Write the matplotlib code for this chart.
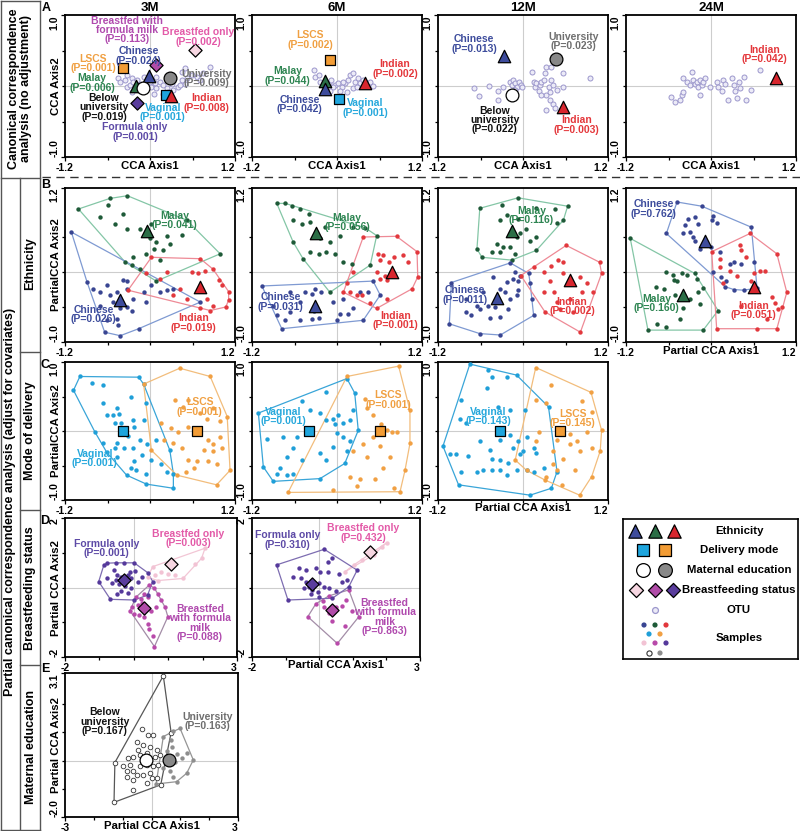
import matplotlib.pyplot as plt
from matplotlib.lines import Line2D
import numpy as np

plt.rcParams['font.family'] = ['Liberation Sans', 'DejaVu Sans']
plt.rcParams['font.weight'] = 'bold'
plt.rcParams['axes.labelweight'] = 'bold'

# ---------------- data ----------------
# A: unadjusted CCA, OTU scores
a3_otu = np.array([(-0.45, 0.11), (-0.42, 0.06), (-0.35, 0.08), (-0.33, -0.01), (-0.28, 0.01), (-0.26, 0.11),
                   (-0.24, 0.05), (-0.19, 0.08), (-0.14, 0.03), (-0.12, -0.03), (-0.05, 0.01), (0.0, 0.06),
                   (0.02, -0.02), (0.07, 0.04), (0.09, -0.03), (0.14, 0.06), (0.19, 0.01), (0.24, -0.03),
                   (0.26, -0.09), (0.33, -0.06), (0.39, -0.02), (0.45, 0.20), (0.49, 0.25), (0.52, 0.11),
                   (0.59, 0.15), (0.66, 0.13), (0.71, 0.08), (0.75, 0.18), (0.85, 0.27), (0.49, 0.03),
                   (0.45, 0.08), (0.09, 0.12), (-0.26, -0.09), (-0.33, 0.15), (0.31, 0.03), (0.42, 0.01),
                   (0.05, -0.11), (0.19, -0.11), (-0.09, 0.12)])
a6_otu = np.array([(-0.33, 0.23), (-0.31, 0.13), (-0.24, 0.06), (-0.19, 0.01), (-0.12, 0.04), (-0.08, 0.08),
                   (-0.03, 0.01), (0.02, 0.04), (0.07, -0.02), (0.11, 0.04), (0.16, 0.08), (0.18, 0.15),
                   (0.23, 0.18), (0.25, 0.06), (0.30, 0.11), (0.32, 0.04), (0.37, 0.08), (0.42, 0.01),
                   (0.47, 0.06), (0.23, -0.03), (0.14, -0.08), (0.09, 0.06), (0.04, -0.07), (-0.05, -0.02),
                   (-0.10, -0.07), (-0.26, 0.15), (0.51, 0.0), (0.28, -0.02)])
a12_otu = np.array([(-0.69, -0.03), (-0.62, -0.14), (-0.48, 0.0), (-0.36, -0.07), (-0.35, -0.20), (-0.28, -0.02),
                    (-0.18, 0.06), (-0.16, 0.01), (-0.14, 0.08), (-0.11, 0.04), (-0.08, -0.02), (-0.06, 0.05),
                    (-0.03, 0.01), (-0.01, -0.02), (-0.11, -0.06), (0.12, 0.20), (0.15, 0.06), (0.17, -0.02),
                    (0.19, 0.04), (0.22, -0.07), (0.24, 0.01), (0.26, 0.06), (0.29, 0.09), (0.31, 0.18),
                    (0.33, 0.27), (0.36, -0.02), (0.38, -0.08), (0.40, 0.27), (0.43, 0.01), (0.33, -0.13),
                    (0.38, -0.20), (0.43, -0.25), (0.45, -0.31), (0.32, -0.34), (0.48, -0.06), (0.57, 0.18),
                    (0.57, -0.02), (0.40, 0.09), (0.94, 0.11), (0.26, -0.13)])
a24_otu = np.array([(-0.56, -0.15), (-0.51, -0.22), (-0.44, -0.20), (-0.41, -0.13), (-0.39, -0.08), (-0.40, 0.11),
                    (-0.34, 0.06), (-0.30, 0.01), (-0.27, 0.20), (-0.25, 0.08), (-0.23, 0.03), (-0.20, 0.06),
                    (-0.18, -0.02), (-0.16, 0.08), (-0.13, 0.01), (-0.11, 0.06), (-0.08, 0.11), (-0.16, -0.13),
                    (-0.01, -0.02), (0.08, 0.06), (0.10, -0.02), (0.15, -0.07), (0.17, 0.08), (0.24, -0.20),
                    (0.29, 0.11), (0.34, -0.07), (0.36, -0.17), (0.39, 0.06), (0.41, -0.03), (0.46, 0.13),
                    (0.50, -0.20), (0.57, -0.06), (0.69, 0.23), (0.20, 0.03), (0.32, 0.01)])

# A: centroids and P values
a3_cent = {'Breastfed only': (0.64, 0.51), 'Breastfed with formula milk': (0.08, 0.30), 'LSCS': (-0.38, 0.25),
           'Chinese': (-0.01, 0.14), 'University': (0.28, 0.11), 'Malay': (-0.20, 0.0),
           'Below university': (-0.10, -0.03), 'Vaginal': (0.22, -0.13), 'Indian': (0.30, -0.14),
           'Formula only': (-0.19, -0.24)}
a3_p = {'Breastfed only': '0.002', 'Breastfed with formula milk': '0.113', 'LSCS': '0.001', 'Chinese': '0.024',
        'University': '0.009', 'Malay': '0.006', 'Below university': '0.019', 'Vaginal': '0.001',
        'Indian': '0.008', 'Formula only': '0.001'}
a6_cent = {'LSCS': (-0.10, 0.37), 'Malay': (-0.17, 0.07), 'Chinese': (-0.17, -0.04), 'Vaginal': (0.03, -0.18),
           'Indian': (0.40, 0.04)}
a6_p = {'LSCS': '0.002', 'Malay': '0.044', 'Chinese': '0.042', 'Vaginal': '0.001', 'Indian': '0.002'}
a12_cent = {'Chinese': (-0.27, 0.42), 'University': (0.47, 0.38), 'Below university': (-0.16, -0.13),
            'Indian': (0.56, -0.30)}
a12_p = {'Chinese': '0.013', 'University': '0.023', 'Below university': '0.022', 'Indian': '0.003'}
a24_cent = {'Indian': (0.92, 0.11)}
a24_p = {'Indian': '0.042'}

# B: ethnicity, partial CCA sample scores
b3_malay = np.array([(-1.01, 0.90), (-0.57, 1.05), (-0.32, 1.09), (-0.59, 0.95), (-0.38, 0.83), (-0.49, 0.69),
                     (-0.33, 0.62), (-0.14, 0.62), (0.02, 0.69), (0.0, 0.48), (0.09, 0.43), (0.24, 0.52),
                     (0.28, 0.40), (0.45, 0.53), (-0.05, 0.26), (0.05, 0.33), (-0.24, 0.21), (-0.14, 0.05),
                     (0.99, 0.26), (-0.35, 0.14), (-0.26, 0.10), (0.52, 0.74), (0.19, 0.31), (0.14, 0.17),
                     (-0.71, 0.79), (0.09, -0.13)])
b3_chinese = np.array([(-0.89, -0.14), (-0.80, -0.24), (-0.71, -0.29), (-0.61, -0.19), (-0.56, -0.33),
                       (-0.52, -0.43), (-0.47, -0.29), (-0.38, -0.12), (-0.33, -0.24), (-0.42, -0.52),
                       (-0.33, -0.50), (-0.26, -0.55), (-0.24, -0.38), (-0.47, -0.67), (-0.45, -0.76),
                       (-0.61, -0.69), (-0.64, -0.86), (-0.42, -0.91), (-0.16, -0.81), (-0.09, -0.29),
                       (0.02, -0.19), (0.14, -0.29), (0.24, -0.26), (0.33, -0.24), (-0.05, -0.43),
                       (0.71, -0.43), (-1.11, 0.57), (-0.71, -0.48), (-0.33, -0.13)])
b3_indian = np.array([(0.02, 0.21), (0.71, 0.19), (0.59, 0.0), (0.68, -0.02), (0.78, 0.01), (0.89, 0.04),
                      (0.97, -0.12), (1.01, -0.19), (1.11, -0.28), (1.11, -0.40), (1.07, -0.50), (0.89, -0.48),
                      (0.80, -0.38), (0.71, -0.51), (0.85, -0.55), (0.52, -0.38), (0.42, -0.24), (0.33, -0.33),
                      (0.24, 0.0), (0.14, -0.10), (-0.31, -0.26), (-0.05, -0.02)])
b6_malay = np.array([(-0.85, 0.98), (-0.73, 0.98), (-0.64, 0.94), (-0.52, 0.90), (-0.40, 0.83), (-0.62, 0.74),
                     (-0.50, 0.69), (-0.38, 0.71), (-0.17, 0.64), (-0.24, 0.48), (-0.10, 0.43), (0.04, 0.52),
                     (0.23, 0.64), (0.40, 0.63), (0.56, 0.52), (-0.62, 0.43), (-0.38, 0.29), (-0.26, 0.26),
                     (-0.15, 0.29), (-0.03, 0.26), (0.09, 0.14), (0.21, 0.12), (-0.10, -0.29), (-0.48, 0.19),
                     (0.47, 0.10)])
b6_chinese = np.array([(-1.06, -0.20), (-0.90, -0.48), (-0.85, -0.62), (-0.78, -0.81), (-0.73, -0.69),
                       (-0.66, -0.57), (-0.52, -0.43), (-0.45, -0.29), (-0.36, -0.31), (-0.31, -0.24),
                       (-0.23, -0.29), (-0.33, -0.55), (-0.36, -0.67), (-0.26, -0.66), (0.04, -0.60),
                       (0.16, -0.60), (0.23, -0.52), (-0.05, -0.43), (0.09, -0.38), (0.32, -0.29),
                       (0.44, -0.29), (0.51, -0.13), (0.61, -0.33), (0.0, -0.69), (-0.52, -0.69),
                       (-0.66, -0.29), (0.37, -0.69)])
b6_indian = np.array([(0.37, 0.50), (0.84, 0.51), (0.58, 0.26), (0.65, 0.24), (0.61, 0.17), (0.73, 0.14),
                      (0.80, 0.21), (0.68, -0.05), (0.61, -0.10), (0.70, -0.12), (0.56, 0.0), (0.14, -0.15),
                      (0.18, -0.29), (0.28, -0.33), (0.35, -0.33), (0.47, -0.44), (0.56, -0.52), (0.70, -0.38),
                      (0.23, 0.0), (0.09, -0.29), (0.93, 0.24), (1.0, 0.14), (1.06, -0.24), (1.13, 0.29),
                      (1.14, -0.07)])
b12_malay = np.array([(-0.61, 0.91), (-0.30, 0.96), (-0.07, 1.06), (0.19, 0.91), (0.45, 0.90), (0.63, 0.94),
                      (0.57, 0.74), (0.48, 0.70), (-0.23, 0.82), (-0.32, 0.74), (-0.07, 0.75), (0.04, 0.62),
                      (-0.04, 0.56), (-0.09, 0.50), (0.10, 0.45), (0.19, 0.50), (-0.37, 0.40), (-0.28, 0.36),
                      (-0.18, 0.36), (-0.44, 0.29), (-0.32, 0.29), (-0.11, 0.26), (-0.65, 0.33), (-0.58, 0.21),
                      (0.19, 0.31), (-0.16, 0.17)])
b12_chinese = np.array([(-1.01, -0.15), (-1.04, -0.74), (-0.61, -0.88), (-0.32, -0.90), (0.15, -0.62),
                        (-0.18, 0.13), (-0.11, 0.0), (-0.14, -0.10), (-0.04, -0.05), (-0.07, -0.13),
                        (-0.23, -0.14), (-0.42, -0.07), (-0.32, -0.24), (-0.25, -0.29), (-0.18, -0.39),
                        (-0.09, -0.33), (-0.07, -0.26), (-0.65, -0.48), (-0.80, -0.57), (-0.73, -0.61),
                        (-0.61, -0.53), (-0.50, -0.48), (-0.47, -0.66), (-0.32, -0.64), (-0.80, -0.39),
                        (-0.56, -0.29), (-0.40, -0.50), (-0.21, -0.53), (0.08, -0.02), (0.10, -0.15),
                        (0.12, -0.39)])
b12_indian = np.array([(0.61, 0.38), (1.08, 0.14), (1.11, -0.02), (0.99, -0.29), (0.81, -0.86), (0.31, -0.57),
                       (-0.03, -0.05), (0.15, 0.07), (0.50, 0.17), (0.56, 0.14), (0.40, 0.09), (0.29, 0.0),
                       (0.38, -0.13), (0.57, -0.01), (0.81, -0.07), (0.90, -0.15), (0.83, -0.29), (0.30, -0.29),
                       (0.44, -0.29), (0.48, -0.43), (0.66, -0.38), (0.71, -0.57), (0.52, -0.53)])
b24_chinese = np.array([(-0.48, 1.0), (-0.13, 0.94), (0.03, 0.80), (0.57, 0.64), (0.61, 0.14), (0.65, -0.23),
                        (0.46, -0.26), (0.20, -0.21), (-0.63, 0.55), (-0.39, 0.55), (-0.30, 0.57), (-0.25, 0.50),
                        (-0.18, 0.69), (-0.37, 0.67), (-0.33, 0.76), (-0.22, 0.79), (0.01, 0.74), (0.09, 0.70),
                        (-0.16, 0.33), (0.0, 0.36), (0.13, 0.29), (0.27, 0.12), (0.32, 0.14), (0.42, 0.12),
                        (0.03, 0.0), (0.14, -0.07), (0.21, -0.13), (0.32, -0.25), (-0.23, 0.45)])
b24_malay = np.array([(-1.14, 0.48), (-0.89, -0.83), (-0.11, -0.83), (0.10, -0.55), (-0.63, 0.0), (-0.53, -0.04),
                      (-0.41, -0.02), (-0.34, -0.04), (-0.23, -0.02), (-0.20, -0.10), (-0.52, -0.12),
                      (-0.48, -0.13), (-0.77, -0.21), (-0.67, -0.24), (-0.76, -0.74), (-0.63, -0.79),
                      (-0.39, -0.52), (-0.30, -0.39), (-0.18, -0.29), (-0.11, -0.23), (-0.44, -0.67),
                      (-0.16, -0.45), (-0.51, -0.33)])
b24_indian = np.array([(0.55, 0.55), (0.93, 0.26), (1.07, -0.29), (1.0, -0.50), (0.93, -0.81), (0.65, -0.81),
                       (0.08, -0.81), (0.01, 0.29), (0.13, 0.19), (0.41, 0.38), (0.43, 0.32), (0.50, 0.21),
                       (0.69, 0.02), (0.76, 0.01), (0.61, -0.02), (0.13, 0.07), (0.27, 0.02), (0.36, -0.06),
                       (0.57, -0.13), (0.86, -0.36), (0.90, -0.44), (0.95, -0.53), (0.79, -0.67), (0.43, -0.48),
                       (0.17, -0.15)])
b3_cent = {'Malay': (-0.04, 0.59), 'Indian': (0.70, -0.21), 'Chinese': (-0.42, -0.40)}
b3_p = {'Malay': '0.041', 'Indian': '0.019', 'Chinese': '0.026'}
b6_cent = {'Malay': (-0.29, 0.55), 'Indian': (0.77, 0.0), 'Chinese': (-0.31, -0.48)}
b6_p = {'Malay': '0.056', 'Indian': '0.001', 'Chinese': '0.031'}
b12_cent = {'Malay': (-0.16, 0.58), 'Indian': (0.67, -0.12), 'Chinese': (-0.37, -0.37)}
b12_p = {'Malay': '0.116', 'Indian': '0.002', 'Chinese': '0.011'}
b24_cent = {'Chinese': (-0.08, 0.45), 'Malay': (-0.40, -0.33), 'Indian': (0.60, -0.21)}
b24_p = {'Chinese': '0.762', 'Malay': '0.160', 'Indian': '0.051'}

# C: mode of delivery
c3_vaginal = np.array([(-0.99, 0.79), (-0.16, 0.78), (-1.08, 0.59), (-0.82, 0.69), (-0.66, 0.67), (-0.27, 0.50),
                       (-0.09, 0.68), (-0.05, 0.40), (0.28, -0.28), (0.33, -0.83), (-0.05, -0.77), (-0.33, -0.64),
                       (-0.78, -0.01), (-0.66, 0.40), (-0.61, 0.23), (-0.52, 0.23), (-0.47, 0.33), (-0.44, 0.25),
                       (-0.49, 0.12), (-0.41, 0.11), (-0.24, 0.16), (-0.23, 0.06), (-0.09, 0.16), (-0.31, -0.07),
                       (-0.14, -0.13), (-0.47, -0.18), (-0.37, -0.25), (-0.49, -0.25), (-0.24, -0.25),
                       (-0.66, -0.18), (-0.61, -0.31), (-0.46, -0.38), (-0.23, -0.43), (-0.12, -0.35),
                       (-0.27, -0.53), (-0.20, -0.57), (-0.05, -0.62), (0.01, -0.42), (0.15, -0.48),
                       (0.24, -0.59), (0.33, -0.62), (-0.04, -0.19), (0.09, -0.13)])
c3_lscs = np.array([(-0.09, 0.68), (0.42, 0.91), (0.85, 0.79), (1.09, 0.21), (1.13, -0.57), (0.94, -0.78),
                    (0.02, -0.28), (0.35, 0.45), (0.46, 0.35), (0.54, 0.45), (0.71, 0.26), (0.80, 0.17),
                    (0.89, 0.33), (0.99, 0.14), (0.16, 0.11), (0.29, 0.04), (0.39, -0.02), (0.53, 0.06),
                    (0.20, -0.13), (0.33, -0.17), (0.45, -0.24), (0.71, -0.04), (0.82, -0.13), (0.89, -0.19),
                    (0.99, -0.09), (1.01, -0.24), (0.89, -0.29), (0.76, -0.28), (0.66, -0.43), (0.62, -0.54),
                    (0.82, -0.43), (0.95, -0.48), (0.51, -0.60), (0.53, -0.42), (0.38, -0.64)])
c6_vaginal = np.array([(-1.11, 0.26), (0.14, 0.76), (-0.16, 0.57), (-0.50, 0.43), (-0.38, 0.30), (-0.24, 0.26),
                       (-0.15, 0.16), (-0.05, 0.18), (0.02, 0.23), (-0.03, 0.10), (0.09, 0.11), (0.18, 0.16),
                       (0.23, 0.30), (0.25, 0.55), (0.30, 0.01), (0.0, -0.03), (0.09, -0.09), (0.18, -0.14),
                       (-0.05, -0.23), (0.14, -0.29), (-0.24, -0.32), (-0.15, -0.42), (0.11, -0.47),
                       (-0.24, -0.69), (-0.62, -0.24), (-0.57, -0.09), (-0.76, -0.09), (-0.99, -0.11),
                       (-0.71, -0.38), (-0.81, -0.53), (-0.90, -0.73), (-1.04, -0.52), (-0.85, -0.62),
                       (-0.71, -0.64), (-0.62, -0.62), (-0.50, -0.42)])
c6_lscs = np.array([(0.14, 0.79), (0.40, 0.47), (0.42, 0.34), (0.51, 0.23), (0.62, 0.10), (0.70, 0.01),
                    (0.77, -0.01), (0.84, -0.01), (0.51, -0.09), (0.37, -0.19), (0.61, -0.22), (0.42, -0.37),
                    (0.75, -0.38), (0.18, -0.66), (0.32, -0.69), (0.28, -0.80), (0.54, -0.69), (0.80, -0.82),
                    (-0.05, -0.86), (0.23, -0.29), (0.65, -0.53), (-0.69, -0.89), (0.87, 0.94), (1.03, 0.30),
                    (1.03, -0.18), (0.96, -0.57), (0.89, -0.88)])
c12_vaginal = np.array([(-0.75, 0.97), (-0.49, 0.89), (-0.44, 0.78), (-0.23, 0.78), (-0.09, 0.81), (-0.51, 0.63),
                        (-0.87, 0.45), (-0.89, 0.18), (-0.80, 0.12), (-0.35, 0.35), (-0.18, 0.30), (0.03, 0.30),
                        (-0.61, -0.14), (-0.47, -0.27), (-0.32, -0.13), (-0.18, -0.06), (-0.07, -0.15),
                        (-0.14, -0.25), (0.0, -0.29), (0.05, -0.09), (0.15, -0.24), (0.19, -0.32), (-1.03, -0.33),
                        (-0.94, -0.33), (-0.77, -0.36), (-0.44, -0.41), (-0.32, -0.42), (-0.21, -0.47),
                        (-0.65, -0.59), (-0.56, -0.57), (-0.44, -0.57), (-0.32, -0.57), (-0.23, -0.64),
                        (-0.09, -0.57), (0.05, -0.57), (0.15, -0.59), (0.29, -0.54), (0.36, 0.35), (0.48, -0.59),
                        (0.40, -0.83), (0.10, -0.93), (-0.91, -0.78), (-1.13, -0.22), (-0.87, -0.59),
                        (-0.04, -0.33)])
c12_lscs = np.array([(0.18, 0.92), (0.40, 0.67), (0.96, 0.56), (0.19, 0.45), (0.33, 0.40), (0.83, 0.43),
                     (0.97, 0.28), (1.11, 0.01), (0.22, -0.01), (0.19, -0.14), (0.48, -0.13), (0.66, -0.19),
                     (0.76, -0.14), (0.90, -0.01), (0.66, -0.04), (0.97, -0.25), (0.81, -0.29), (1.09, -0.29),
                     (0.43, -0.29), (0.57, -0.40), (0.43, -0.48), (0.05, -0.57), (0.33, -0.67), (0.48, -0.57),
                     (0.73, -0.57), (0.97, -0.66), (0.80, -0.93), (0.31, -0.71), (-0.11, -0.42), (0.55, -0.78)])
c3_cent = {'Vaginal': (-0.38, 0.0), 'LSCS': (0.66, 0.0)}
c3_p = {'Vaginal': '0.001', 'LSCS': '0.001'}
c6_cent = {'Vaginal': (-0.39, 0.0), 'LSCS': (0.60, 0.0)}
c6_p = {'Vaginal': '0.001', 'LSCS': '0.001'}
c12_cent = {'Vaginal': (-0.32, 0.0), 'LSCS': (0.52, 0.0)}
c12_p = {'Vaginal': '0.143', 'LSCS': '0.145'}

# D: breastfeeding status
d3_formula = np.array([(-1.02, 0.17), (-0.87, 0.65), (-0.77, 0.70), (-0.53, 0.71), (-0.28, 0.71), (0.01, 0.71),
                       (0.40, 0.43), (0.55, 0.17), (0.40, -0.22), (0.01, -0.36), (-0.68, -0.34), (-0.58, 0.50),
                       (-0.48, 0.36), (-0.38, 0.29), (-0.33, 0.17), (-0.21, 0.26), (-0.17, 0.36), (-0.11, 0.46),
                       (-0.07, 0.26), (-0.43, 0.10), (-0.53, 0.22), (-0.63, 0.14), (-0.77, 0.26), (-0.26, 0.04),
                       (-0.09, 0.0), (0.11, 0.17), (0.23, 0.31), (0.03, 0.48), (-0.36, -0.09), (-0.17, -0.15),
                       (-0.48, -0.19)])
d3_mixed = np.array([(0.45, 0.07), (0.60, -0.02), (0.70, -0.19), (0.40, -0.28), (0.21, -0.34), (0.25, -0.46),
                     (0.11, -0.51), (-0.04, -0.57), (-0.11, -0.67), (0.01, -0.76), (0.16, -0.79), (0.30, -0.86),
                     (0.50, -0.67), (0.65, -0.55), (0.79, -0.36), (0.91, -0.57), (0.99, -0.84), (0.40, -1.05),
                     (0.45, -1.20), (0.55, -1.41), (0.60, -1.70), (0.30, -0.19), (0.06, -0.28)])
d3_breast = np.array([(0.55, 0.60), (0.79, 0.46), (0.99, 0.39), (1.19, 0.36), (1.43, 0.26), (2.07, 1.13),
                      (1.97, 0.84), (1.77, 0.68), (0.70, 0.20), (0.40, 0.29), (0.62, 0.36)])
d6_formula = np.array([(-1.27, 0.65), (0.15, 1.10), (1.13, 0.50), (0.88, 0.02), (0.39, -0.31), (-0.93, -0.36),
                       (-0.59, 0.55), (-0.39, 0.50), (-0.10, 0.55), (0.02, 0.46), (0.25, 0.46), (0.59, 0.39),
                       (-0.78, 0.31), (-0.54, 0.26), (-0.39, 0.17), (-0.29, 0.02), (-0.15, 0.07), (0.0, 0.12),
                       (-0.44, -0.02), (-0.20, -0.07), (-0.05, -0.12), (0.15, 0.02), (0.29, -0.02), (0.49, -0.09),
                       (0.69, 0.17), (0.83, 0.22), (0.0, -0.26), (-0.25, -0.19), (0.25, 0.74), (0.39, 0.84)])
d6_mixed = np.array([(-0.34, -0.84), (0.54, -1.61), (1.18, -0.84), (0.88, -0.07), (0.10, -0.38), (0.15, -0.55),
                     (0.29, -0.74), (0.49, -0.57), (0.69, -0.53), (0.80, -0.36), (0.98, -0.67), (-0.10, -0.47),
                     (0.39, -0.95), (0.78, -1.11), (0.29, -0.24)])
d6_breast = np.array([(0.78, 0.46), (1.03, 0.65), (1.27, 0.79), (1.62, 0.94), (1.86, 1.16), (2.01, 1.29)])
d3_cent = {'Breastfed only': (1.09, 0.68), 'Formula only': (-0.28, 0.22), 'Breastfed with formula milk': (0.30, -0.58)}
d3_p = {'Breastfed only': '0.003', 'Formula only': '0.001', 'Breastfed with formula milk': '0.088'}
d6_cent = {'Breastfed only': (1.52, 1.03), 'Formula only': (-0.22, 0.10), 'Breastfed with formula milk': (0.39, -0.65)}
d6_p = {'Breastfed only': '0.432', 'Formula only': '0.310', 'Breastfed with formula milk': '0.863'}

# E: maternal education
e_below = np.array([(0.41, 3.0), (-1.27, -0.07), (-1.30, -1.48), (0.32, -0.86), (0.68, 0.99), (-0.34, 1.11),
                    (-0.11, 0.91), (0.06, 0.91), (-0.52, 0.67), (-0.28, 0.55), (-0.05, 0.47), (0.18, 0.38),
                    (-0.46, 0.38), (-0.63, 0.14), (-0.80, 0.08), (-0.40, 0.20), (-0.14, 0.26), (0.12, 0.14),
                    (0.30, 0.20), (-0.75, -0.16), (-0.98, -0.21), (-0.86, -0.36), (-0.63, -0.36), (-0.40, -0.21),
                    (-0.17, -0.16), (0.06, -0.21), (0.24, -0.16), (-0.52, -0.51), (-0.28, -0.51), (-0.05, -0.45),
                    (0.18, -0.63), (-0.63, -0.69), (-0.86, -0.57), (-0.17, -0.81), (0.01, -0.63), (-0.65, -1.04)])
e_univ = np.array([(0.99, 1.14), (0.76, 1.03), (0.41, 0.85), (0.67, 0.71), (0.70, 0.49), (0.53, 0.35), (0.87, 0.23),
                   (0.82, -0.04), (1.05, 0.08), (1.22, 0.26), (1.45, 0.02), (0.41, -0.27), (0.64, -0.36),
                   (0.76, -0.59), (0.87, -0.75), (1.22, -0.45), (0.16, -0.83), (0.53, 0.12)])
e_cent = {'Below university': (-0.20, 0.02), 'University': (0.62, 0.02)}
e_p = {'Below university': '0.167', 'University': '0.163'}

# ---------------- styles ----------------
STYLE = {
    'Chinese': dict(m='^', s=80, fc='#3e4c9c', tc='#3d4c9c', dc='#394592', hc='#7f9ad2'),
    'Malay': dict(m='^', s=80, fc='#2b6e46', tc='#2e8552', dc='#1e5a38', hc='#84c6a6'),
    'Indian': dict(m='^', s=80, fc='#d8262e', tc='#e4383c', dc='#e2383d', hc='#ee8a96'),
    'Vaginal': dict(m='s', s=62, fc='#1ea5dd', tc='#26a8dc', dc='#1f9fd8', hc='#39a5d8'),
    'LSCS': dict(m='s', s=62, fc='#f29c35', tc='#f0a042', dc='#f1a043', hc='#f2bd7c'),
    'Below university': dict(m='o', s=85, fc='white', tc='#111111', dc='white', hc='#575757'),
    'University': dict(m='o', s=85, fc='#888888', tc='#6e6e6e', dc='#8e8e8e', hc='#959595'),
    'Breastfed only': dict(m='D', s=45, fc='#f6d6e1', tc='#e35aa8', dc='#f2c3d4', hc='#f2c6d5'),
    'Breastfed with formula milk': dict(m='D', s=45, fc='#b04ca8', tc='#b04aae', dc='#b84aaa', hc='#a38da7'),
    'Formula only': dict(m='D', s=45, fc='#5a3d9d', tc='#5d4aa6', dc='#55399b', hc='#7d6db1'),
}
OTU = dict(fc='#ecebf7', ec='#9c97cc')

W, H = 800, 831
fig = plt.figure(figsize=(8, 8.31), dpi=100)


def px_axes(x0, y0, x1, y1):
    return fig.add_axes([x0 / W, 1 - y1 / H, (x1 - x0) / W, (y1 - y0) / H])


def convex_hull(pts):
    p = sorted(map(tuple, pts))

    def cross(o, a, b):
        return (a[0] - o[0]) * (b[1] - o[1]) - (a[1] - o[1]) * (b[0] - o[0])
    lower, upper = [], []
    for q in p:
        while len(lower) >= 2 and cross(lower[-2], lower[-1], q) <= 0:
            lower.pop()
        lower.append(q)
    for q in reversed(p):
        while len(upper) >= 2 and cross(upper[-2], upper[-1], q) <= 0:
            upper.pop()
        upper.append(q)
    h = lower[:-1] + upper[:-1]
    return np.array(h + [h[0]])


def setup(ax, xlim, ylim, xlab, ylab, xminor, yminor, xlabel=None, ylabel=None):
    ax.set_xlim(*xlim)
    ax.set_ylim(*ylim)
    ax.axhline(0, color='#cdcdcd', lw=0.8, zorder=0)
    ax.axvline(0, color='#cdcdcd', lw=0.8, zorder=0)
    ax.set_xticks(xlim, xlab)
    ax.set_yticks(ylim, ylab)
    ax.set_xticks(xminor, minor=True)
    ax.set_yticks(yminor, minor=True)
    ax.tick_params(which='both', direction='out', length=3, width=0.9, labelsize=7.5, pad=1)
    ax.tick_params(which='minor', length=2.5)
    lx = ax.get_xticklabels()
    lx[0].set_ha('center')
    lx[1].set_ha('right')
    ly = ax.get_yticklabels()
    for lbl, va in zip(ly, ['bottom', 'top']):
        lbl.set_rotation(90)
        lbl.set_va(va)
    for sp in ax.spines.values():
        sp.set_linewidth(1.3)
    if xlabel:
        ax.set_xlabel(xlabel, fontsize=8.2)
        ax.xaxis.set_label_coords(0.5, -0.025)
    if ylabel:
        ax.set_ylabel(ylabel, fontsize=8.2)
        ax.yaxis.set_label_coords(-0.025, 0.5)


def groups(ax, sets):
    for name, pts in sets:
        st = STYLE[name]
        h = convex_hull(pts)
        ax.plot(h[:, 0], h[:, 1], color=st['hc'], lw=0.9, zorder=2)
        if name == 'Below university':
            ax.scatter(pts[:, 0], pts[:, 1], s=11, facecolors='white', edgecolors='#333333',
                       linewidths=0.6, zorder=3)
        else:
            ax.scatter(pts[:, 0], pts[:, 1], s=10, c=st['dc'], linewidths=0, zorder=3)


def centroids(ax, cent, pvals, labels):
    for name, (x, y) in cent.items():
        st = STYLE[name]
        ax.scatter([x], [y], marker=st['m'], s=st['s'], c=st['fc'], edgecolors='black',
                   linewidths=0.9, zorder=6)
    for name, (lx, ly, txt) in labels.items():
        ax.text(lx, ly, f"{txt}\n(P={pvals[name]})", color=STYLE[name]['tc'], fontsize=7.5,
                ha='center', va='center', linespacing=0.92, zorder=7)


def otus(ax, pts):
    ax.scatter(pts[:, 0], pts[:, 1], s=13, facecolors=OTU['fc'], edgecolors=OTU['ec'],
               linewidths=0.7, zorder=3)


cols = [(65, 235), (252, 422), (438, 608), (626, 796)]
titles = ['3M', '6M', '12M', '24M']
rng_a = dict(xlim=(-1.2, 1.2), ylim=(-1.0, 1.0), xlab=['-1.2', '1.2'], ylab=['-1.0', '1.0'],
             xminor=[-0.6, 0, 0.6], yminor=[-0.5, 0, 0.5])
rng_b = dict(xlim=(-1.2, 1.2), ylim=(-1.0, 1.2), xlab=['-1.2', '1.2'], ylab=['-1.0', '1.2'],
             xminor=[-0.6, 0, 0.6], yminor=[-0.5, 0, 0.5])
rng_d = dict(xlim=(-2, 3), ylim=(-2, 2), xlab=['-2', '3'], ylab=['-2', '2'],
             xminor=[-1, 0, 1, 2], yminor=[-1, 0, 1])
rng_e = dict(xlim=(-3, 3), ylim=(-2.0, 3.1), xlab=['-3', '3'], ylab=['-2.0', '3.1'],
             xminor=[-2, -1, 0, 1, 2], yminor=[-1, 0, 1, 2])

BWF_A = 'Breastfed with\nformula milk'
BWF_D = 'Breastfed\nwith formula\nmilk'
BU = 'Below\nuniversity'

# ---- row A
a_sets = [
    (a3_otu, a3_cent, a3_p, {
        'Breastfed with formula milk': (-0.33, 0.79, BWF_A), 'Breastfed only': (0.68, 0.69, 'Breastfed only'),
        'Chinese': (-0.16, 0.42, 'Chinese'), 'LSCS': (-0.80, 0.32, 'LSCS'),
        'University': (0.80, 0.11, 'University'), 'Malay': (-0.82, 0.04, 'Malay'),
        'Below university': (-0.65, -0.30, BU), 'Vaginal': (0.18, -0.37, 'Vaginal'),
        'Indian': (0.80, -0.24, 'Indian'), 'Formula only': (-0.21, -0.65, 'Formula only')}),
    (a6_otu, a6_cent, a6_p, {
        'LSCS': (-0.38, 0.65, 'LSCS'), 'Malay': (-0.70, 0.14, 'Malay'), 'Chinese': (-0.53, -0.26, 'Chinese'),
        'Vaginal': (0.40, -0.31, 'Vaginal'), 'Indian': (0.82, 0.24, 'Indian')}),
    (a12_otu, a12_cent, a12_p, {
        'Chinese': (-0.69, 0.59, 'Chinese'), 'University': (0.71, 0.63, 'University'),
        'Below university': (-0.40, -0.48, BU), 'Indian': (0.75, -0.55, 'Indian')}),
    (a24_otu, a24_cent, a24_p, {'Indian': (0.76, 0.44, 'Indian')}),
]
for i, (otu, cent, pv, lab) in enumerate(a_sets):
    ax = px_axes(cols[i][0], 15, cols[i][1], 157)
    setup(ax, **rng_a, xlabel='CCA Axis1', ylabel='CCA Axis2' if i == 0 else None)
    otus(ax, otu)
    centroids(ax, cent, pv, lab)
    ax.set_title(titles[i], fontsize=9.5, fontweight='bold', pad=3)

# ---- row B
b_sets = [
    ([('Malay', b3_malay), ('Chinese', b3_chinese), ('Indian', b3_indian)], b3_cent, b3_p, {
        'Malay': (0.35, 0.74, 'Malay'), 'Chinese': (-0.80, -0.61, 'Chinese'), 'Indian': (0.61, -0.73, 'Indian')}),
    ([('Malay', b6_malay), ('Chinese', b6_chinese), ('Indian', b6_indian)], b6_cent, b6_p, {
        'Malay': (0.14, 0.71, 'Malay'), 'Chinese': (-0.80, -0.43, 'Chinese'), 'Indian': (0.83, -0.69, 'Indian')}),
    ([('Malay', b12_malay), ('Chinese', b12_chinese), ('Indian', b12_indian)], b12_cent, b12_p, {
        'Malay': (0.12, 0.81, 'Malay'), 'Chinese': (-0.82, -0.33, 'Chinese'), 'Indian': (0.69, -0.49, 'Indian')}),
    ([('Malay', b24_malay), ('Chinese', b24_chinese), ('Indian', b24_indian)], b24_cent, b24_p, {
        'Chinese': (-0.81, 0.90, 'Chinese'), 'Malay': (-0.77, -0.45, 'Malay'), 'Indian': (0.60, -0.55, 'Indian')}),
]
for i, (sets, cent, pv, lab) in enumerate(b_sets):
    ax = px_axes(cols[i][0], 188, cols[i][1], 342)
    setup(ax, **rng_b, xlabel='Partial CCA Axis1' if i == 3 else None,
          ylabel='PartialCCA Axis2' if i == 0 else None)
    groups(ax, sets)
    centroids(ax, cent, pv, lab)

# ---- row C
c_sets = [
    ([('Vaginal', c3_vaginal), ('LSCS', c3_lscs)], c3_cent, c3_p, {
        'Vaginal': (-0.78, -0.40, 'Vaginal'), 'LSCS': (0.70, 0.35, 'LSCS')}),
    ([('Vaginal', c6_vaginal), ('LSCS', c6_lscs)], c6_cent, c6_p, {
        'Vaginal': (-0.76, 0.21, 'Vaginal'), 'LSCS': (0.72, 0.45, 'LSCS')}),
    ([('Vaginal', c12_vaginal), ('LSCS', c12_lscs)], c12_cent, c12_p, {
        'Vaginal': (-0.49, 0.21, 'Vaginal'), 'LSCS': (0.70, 0.18, 'LSCS')}),
]
for i, (sets, cent, pv, lab) in enumerate(c_sets):
    ax = px_axes(cols[i][0], 362, cols[i][1], 500)
    setup(ax, **rng_a, xlabel='Partial CCA Axis1' if i == 2 else None,
          ylabel='PartialCCA Axis2' if i == 0 else None)
    groups(ax, sets)
    centroids(ax, cent, pv, lab)

# ---- row D
d_sets = [
    ([('Breastfed only', d3_breast), ('Breastfed with formula milk', d3_mixed), ('Formula only', d3_formula)],
     d3_cent, d3_p, {'Breastfed only': (1.58, 1.41, 'Breastfed only'),
                     'Formula only': (-0.79, 1.13, 'Formula only'),
                     'Breastfed with formula milk': (1.92, -1.02, BWF_D)}),
    ([('Breastfed only', d6_breast), ('Breastfed with formula milk', d6_mixed), ('Formula only', d6_formula)],
     d6_cent, d6_p, {'Breastfed only': (1.32, 1.57, 'Breastfed only'),
                     'Formula only': (-0.94, 1.37, 'Formula only'),
                     'Breastfed with formula milk': (1.95, -0.85, BWF_D)}),
]
d_cols = [(65, 237), (252, 420)]
for i, (sets, cent, pv, lab) in enumerate(d_sets):
    ax = px_axes(d_cols[i][0], 518, d_cols[i][1], 657)
    setup(ax, **rng_d, xlabel='Partial CCA Axis1' if i == 1 else None,
          ylabel='Partial CCA Axis2' if i == 0 else None)
    groups(ax, sets)
    centroids(ax, cent, pv, lab)

# ---- row E
ax = px_axes(65, 673, 238, 817)
setup(ax, **rng_e, xlabel='Partial CCA Axis1', ylabel='Partial CCA Axis2')
groups(ax, [('Below university', e_below), ('University', e_univ)])
centroids(ax, e_cent, e_p, {'Below university': (-1.62, 1.38, BU), 'University': (1.94, 1.38, 'University')})

# ---- legend box (pixel coordinates)
lg = px_axes(623, 519, 798, 659)
lg.set_xlim(623, 798)
lg.set_ylim(659, 519)
lg.set_xticks([])
lg.set_yticks([])
for sp in lg.spines.values():
    sp.set_linewidth(1.2)
leg_rows = [
    (531, [('Chinese', 635), ('Malay', 655), ('Indian', 674)], 'Ethnicity'),
    (550, [('Vaginal', 643), ('LSCS', 665)], 'Delivery mode'),
    (570, [('Below university', 643), ('University', 665)], 'Maternal education'),
    (590, [('Breastfed only', 636), ('Breastfed with formula milk', 655), ('Formula only', 673)],
     'Breastfeeding status'),
]
for y, items, txt in leg_rows:
    for name, x in items:
        st = STYLE[name]
        lg.scatter([x], [y], marker=st['m'], s=st['s'] * 1.15, c=st['fc'], edgecolors='black', linewidths=0.9)
    lg.text(739, y, txt, fontsize=8.2, ha='center', va='center')
lg.scatter([655], [610], s=18, facecolors=OTU['fc'], edgecolors=OTU['ec'], linewidths=0.9)
lg.text(739, 610, 'OTU', fontsize=8.2, ha='center', va='center')
sample_grid = [
    (625, [('Chinese', 644), ('Malay', 655), ('Indian', 666)]),
    (634, [('Vaginal', 649), ('LSCS', 660)]),
    (643, [('Breastfed only', 644), ('Breastfed with formula milk', 655), ('Formula only', 666)]),
    (653, [('Below university', 649), ('University', 660)]),
]
for y, items in sample_grid:
    for name, x in items:
        ec = '#333333' if name == 'Below university' else 'none'
        lg.scatter([x], [y], s=14, c=STYLE[name]['dc'], edgecolors=ec, linewidths=0.8)
lg.text(739, 638, 'Samples', fontsize=8.2, ha='center', va='center')

# ---- frame on the left and separators (pixel coordinates)
ov = fig.add_axes([0, 0, 1, 1], zorder=-1)
ov.set_xlim(0, W)
ov.set_ylim(H, 0)
ov.axis('off')
fc = '#555555'
for seg in [((1, 1), (1, 830)), ((40, 1), (40, 830)), ((1, 1), (40, 1)), ((1, 830), (40, 830)),
            ((1, 178), (40, 178)), ((20, 178), (20, 830)),
            ((20, 352), (40, 352)), ((20, 510), (40, 510)), ((20, 665), (40, 665))]:
    ov.add_line(Line2D([seg[0][0], seg[1][0]], [seg[0][1], seg[1][1]], color=fc, lw=1))
ov.add_line(Line2D([42, 800], [177, 177], color='#333333', lw=1, dashes=(6, 4)))
ov.text(20, 89, 'Canonical correspondence\nanalysis (no adjustment)', rotation=90, fontsize=9,
        ha='center', va='center', linespacing=1.0)
ov.text(10.5, 502, 'Partial canonical correspondence analysis (adjust for covariates)', rotation=90,
        fontsize=9, ha='center', va='center')
for y, txt in [(264, 'Ethnicity'), (431, 'Mode of delivery'), (588, 'Breastfeeding status'),
               (747, 'Maternal education')]:
    ov.text(30.5, y, txt, rotation=90, fontsize=9, ha='center', va='center')
for (x, y), letter in [((46, 8), 'A'), ((46, 185), 'B'), ((45, 365), 'C'), ((45, 521), 'D'), ((45, 669), 'E')]:
    ov.text(x, y, letter, fontsize=9, ha='center', va='center')

fig.savefig('out.png', dpi=100)
